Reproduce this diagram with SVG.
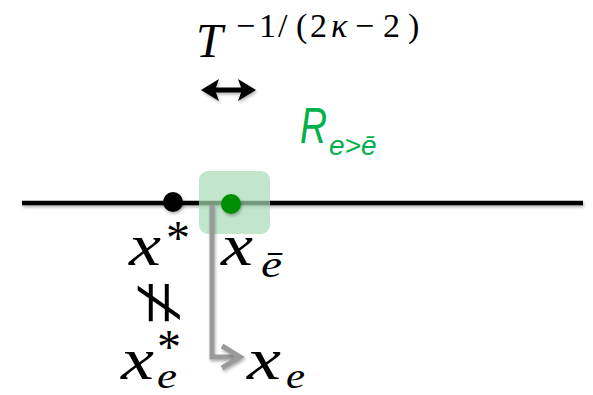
<svg xmlns="http://www.w3.org/2000/svg" width="593" height="395" viewBox="0 0 593 395">
<defs>
<filter id="sh" filterUnits="userSpaceOnUse" x="0" y="0" width="593" height="395">
<feDropShadow dx="1" dy="2" stdDeviation="1.5" flood-color="#000" flood-opacity="0.3"/>
</filter>
</defs>
<style>
.m{font-family:"Liberation Serif","DejaVu Serif",serif;font-style:italic;fill:#000}
.r{font-family:"Liberation Serif","DejaVu Serif",serif;fill:#000}
.g{font-family:"Liberation Sans","Open Sans",sans-serif;font-style:italic;fill:#00b04a}
.gray{fill:none;stroke:#9a9a9a;stroke-width:5}
</style>
<rect width="593" height="395" fill="#fff"/>
<g id="axis">
<line x1="22" y1="203" x2="583" y2="203" stroke="#000" stroke-width="4.5" filter="url(#sh)"/>
</g>
<g id="region">
<rect x="199" y="171" width="71" height="63" rx="9" fill="#a6dcb5" fill-opacity="0.7"/>
</g>
<g id="connectors">
<path class="gray" d="M212,205 V357 H238" filter="url(#sh)"/>
<path class="gray" d="M222,346 L240,357 L222,368" stroke-linejoin="miter" filter="url(#sh)"/>
<g filter="url(#sh)">
<line x1="212" y1="90" x2="245" y2="90" stroke="#000" stroke-width="5"/>
<path d="M201,90 L219,79 L215,90 L219,101 Z" fill="#000"/>
<path d="M256,90 L238,79 L242,90 L238,101 Z" fill="#000"/>
</g>
</g>
<g id="xstar-dot">
<circle cx="173" cy="202" r="10" fill="#000" filter="url(#sh)"/>
</g>
<g id="xbar-dot">
<circle cx="231" cy="204" r="10" fill="#008f00" filter="url(#sh)"/>
</g>
<g id="T-label">
<text class="m" x="196" y="57" font-size="48">T</text>
<text class="r" font-size="34" y="37"><tspan x="236">−</tspan><tspan x="259">1</tspan><tspan x="278">/</tspan><tspan x="296">(</tspan><tspan x="310">2</tspan><tspan x="331" style="font-style:italic">κ</tspan><tspan x="355">−</tspan><tspan x="383">2</tspan><tspan x="408">)</tspan></text>
</g>
<g id="R-label">
<text class="g" x="300" y="143" font-size="50" textLength="27" lengthAdjust="spacingAndGlyphs">R</text>
<text class="g" x="329" y="155" font-size="28">e&gt;ē</text>
</g>
<g id="xstar-label">
<text class="m" x="129" y="265" font-size="60" textLength="32" lengthAdjust="spacingAndGlyphs">x</text>
<text class="r" x="166" y="254" font-size="48">*</text>
</g>
<g id="xbar-label">
<text class="m" x="221" y="265" font-size="60" textLength="32" lengthAdjust="spacingAndGlyphs">x</text>
<text class="m" x="261" y="277" font-size="38" textLength="21" lengthAdjust="spacingAndGlyphs">ē</text>
</g>
<g id="neq">
<text class="r" font-size="80" text-anchor="middle" transform="translate(152,303) rotate(90)" y="20">≠</text>
</g>
<g id="xestar-label">
<text class="m" x="121" y="379" font-size="60" textLength="33" lengthAdjust="spacingAndGlyphs">x</text>
<text class="r" x="157" y="363" font-size="48">*</text>
<text class="m" x="157" y="388" font-size="36" textLength="20" lengthAdjust="spacingAndGlyphs">e</text>
</g>
<g id="xe-label">
<text class="m" x="247" y="379" font-size="60" textLength="34" lengthAdjust="spacingAndGlyphs">x</text>
<text class="m" x="286" y="388" font-size="36" textLength="19" lengthAdjust="spacingAndGlyphs">e</text>
</g>
</svg>
